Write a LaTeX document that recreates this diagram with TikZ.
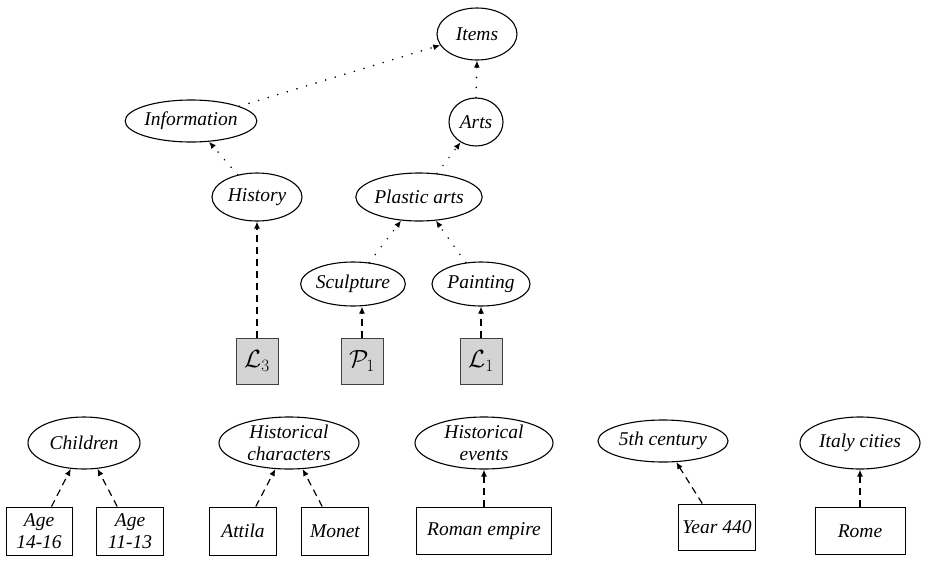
\documentclass[tikz,border=0pt]{standalone}
\usepackage{fontspec}
\setmainfont{Liberation Serif}
\usetikzlibrary{shapes.geometric,arrows.meta}

\begin{document}
\begin{tikzpicture}[x=1pt,y=-1pt,
  every node/.style={font=\fontsize{19.5}{22}\selectfont\itshape, inner sep=0pt, align=center},
  concept/.style={ellipse, draw, line width=1.1pt},
  inst/.style={rectangle, draw, line width=1pt},
  lex/.style={rectangle, draw=black!75, fill=black!17, line width=1pt,
              minimum width=42pt, minimum height=46pt, font=\fontsize{27}{30}\selectfont},
  isa/.style={line width=1.8pt, line cap=round, dash pattern=on 0.01pt off 10pt,
              -{Latex[length=7pt,width=6pt]}},
  inof/.style={line width=1.2pt, dash pattern=on 7pt off 5pt,
              -{Latex[length=7pt,width=6pt]}}]
\useasboundingbox (0,0) rectangle (929,587);

% concept hierarchy
\node[concept, minimum width=80pt, minimum height=52pt] (items) at (477,34) {Items};
\node[concept, minimum width=54pt, minimum height=48pt] (arts) at (476,122) {Arts};
\node[concept, minimum width=126pt, minimum height=42pt] (info) at (191,121) {Information};
\node[concept, minimum width=90pt, minimum height=48pt] (history) at (257,197) {History};
\node[concept, minimum width=116pt, minimum height=48pt] (plastic) at (419,197) {Plastic arts};
\node[concept, minimum width=92pt, minimum height=44pt] (sculpt) at (353,284) {Sculpture};
\node[concept, minimum width=98pt, minimum height=44pt] (paint) at (481,284) {Painting};

% lexicon entries
\node[lex] (L3) at (257,361) {$\mathcal{L}_3$};
\node[lex] (P1) at (362,361) {$\mathcal{P}_1$};
\node[lex] (L1) at (481,361) {$\mathcal{L}_1$};

% lower concepts
\node[concept, minimum width=112pt, minimum height=52pt] (children) at (84,443) {Children};
\node[concept, minimum width=140pt, minimum height=52pt] (hchar) at (289,443) {Historical\\characters};
\node[concept, minimum width=138pt, minimum height=52pt] (hev) at (484,443) {Historical\\events};
\node[concept, minimum width=130pt, minimum height=42pt] (cent) at (663,441) {5th century};
\node[concept, minimum width=120pt, minimum height=52pt] (italy) at (860,443) {Italy cities};

% instances
\node[inst, minimum width=66pt, minimum height=48pt] (a14) at (39,531) {Age\\14-16};
\node[inst, minimum width=67pt, minimum height=48pt] (a11) at (130,531) {Age\\11-13};
\node[inst, minimum width=67pt, minimum height=48pt] (attila) at (243,531) {Attila};
\node[inst, minimum width=67pt, minimum height=48pt] (monet) at (335,531) {Monet};
\node[inst, minimum width=135pt, minimum height=47pt] (roman) at (484,531) {Roman empire};
\node[inst, minimum width=77pt, minimum height=46pt] (year) at (717,527) {Year 440};
\node[inst, minimum width=90pt, minimum height=47pt] (rome) at (860,531) {Rome};

% is-a links
\draw[isa] (info) -- (items);
\draw[isa] (arts.north) -- (items.south);
\draw[isa] (history) -- (info);
\draw[isa] (plastic) -- (arts);
\draw[isa] (sculpt) -- (plastic);
\draw[isa] (paint) -- (plastic);

% instance links
\draw[inof] (L3.north) -- (history.south);
\draw[inof] (P1.north) -- (P1.north |- sculpt.south);
\draw[inof] (L1.north) -- (paint.south);
\draw[inof] (a14) -- (children);
\draw[inof] (a11) -- (children);
\draw[inof] (attila) -- (hchar);
\draw[inof] (monet) -- (hchar);
\draw[inof] (roman.north) -- (hev.south);
\draw[inof] (year) -- (cent);
\draw[inof] (rome.north) -- (italy.south);
\end{tikzpicture}
\end{document}
